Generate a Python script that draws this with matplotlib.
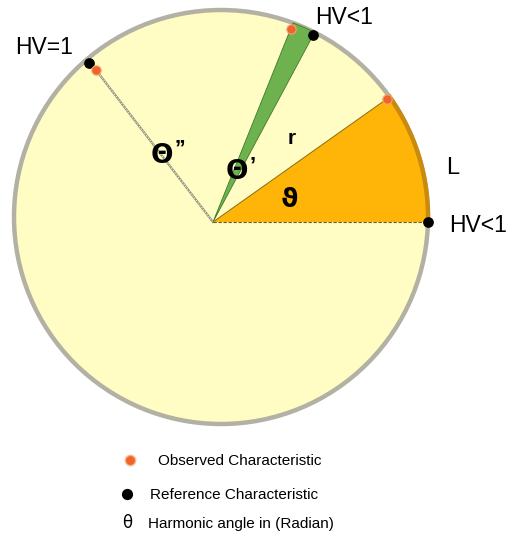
"""Harmonic vector diagram: observed vs reference characteristics on a unit circle."""

import numpy as np
import matplotlib

matplotlib.use("Agg")
import matplotlib.pyplot as plt
from matplotlib.patches import Circle, Polygon

plt.rcParams["font.family"] = ["Liberation Sans", "DejaVu Sans"]

# circle (pixel-like coordinates, y grows downward)
circle_center = (221, 217)
circle_radius = 207
apex = (213, 222)

# ray angles from the apex, degrees (counter-clockwise from +x)
orange_wedge_deg = [0.0, 35.3]
green_wedge_deg = [61.8, 68.1]
hv1_line_deg = 127.6

# marker angles seen from the apex, and how far out along the ray (1 = rim)
observed_deg = [35.3, 68.1, 127.6]
observed_frac = [0.985, 0.97, 0.93]
reference_deg = [0.0, 61.8, 127.8]
reference_frac = [1.0, 0.985, 0.98]

labels = ["HV=1", "HV<1", "HV<1", "L", "r"]
legend_labels = ["Observed Characteristic", "Reference Characteristic",
                 "Harmonic angle in (Radian)"]


def rim_point(angle_deg, frac=1.0):
    """Point on a ray from the apex, frac of the way to the circle."""
    a = np.radians(angle_deg)
    d = np.array([np.cos(a), -np.sin(a)])
    p = np.array(apex) - np.array(circle_center)
    b = p @ d
    c = p @ p - circle_radius ** 2
    t = -b + np.sqrt(b * b - c)
    return np.array(apex) + frac * t * d


def rim_angle(point):
    return np.arctan2(-(point[1] - circle_center[1]), point[0] - circle_center[0])


def wedge_points(a0, a1, n=60):
    p0, p1 = rim_point(a0), rim_point(a1)
    angles = np.linspace(rim_angle(p0), rim_angle(p1), n)
    arc = np.column_stack([circle_center[0] + circle_radius * np.cos(angles),
                           circle_center[1] - circle_radius * np.sin(angles)])
    return np.vstack([apex, arc]), arc


fig = plt.figure(figsize=(5.15, 5.4), dpi=100)
ax = fig.add_axes([0, 0, 1, 1])
ax.set_xlim(0, 515)
ax.set_ylim(540, 0)
ax.axis("off")

ax.add_patch(Circle(circle_center, circle_radius, facecolor="#FFFDC4",
                    edgecolor="#B3B1A3", linewidth=3.2, zorder=1))

# orange wedge
pts, arc = wedge_points(*orange_wedge_deg)
ax.add_patch(Polygon(pts, closed=True, facecolor="#FFB508", edgecolor="none", zorder=2))
ax.plot(arc[:, 0], arc[:, 1], color="#C98A0E", linewidth=3.2, zorder=3)
p_low, p_high = rim_point(orange_wedge_deg[0]), rim_point(orange_wedge_deg[1])
ax.plot([apex[0], p_low[0]], [apex[1], p_low[1]], color="#6E5A20",
        linewidth=0.8, linestyle=(0, (3, 1.5)), zorder=3)
ax.plot([apex[0], p_high[0]], [apex[1], p_high[1]], color="#8A6A10",
        linewidth=0.7, zorder=3)

# green wedge
pts, _ = wedge_points(*green_wedge_deg)
ax.add_patch(Polygon(pts, closed=True, facecolor="#6DB24E", edgecolor="#3E7A2A",
                     linewidth=0.6, zorder=2))

# HV=1 line, up to the observed point
p_hv = rim_point(hv1_line_deg, observed_frac[2])
ax.plot([apex[0], p_hv[0]], [apex[1], p_hv[1]], color="#8F8F80",
        linewidth=1.6, zorder=2)
ax.plot([apex[0], p_hv[0]], [apex[1], p_hv[1]], color="#FFFDC4",
        linewidth=0.6, linestyle=(0, (2, 1.5)), zorder=2)

# markers
ref_pts = np.array([rim_point(a, f) for a, f in zip(reference_deg, reference_frac)])
obs_pts = np.array([rim_point(a, f) for a, f in zip(observed_deg, observed_frac)])
ax.scatter(ref_pts[:, 0], ref_pts[:, 1], s=45, color="black", zorder=5)
ax.scatter(obs_pts[:, 0], obs_pts[:, 1], s=45, color="#F0642A",
           edgecolors="#F7A270", linewidths=0.8, zorder=6)

# labels
ax.text(15, 48, labels[0], fontsize=16.5, va="center", ha="left")
ax.text(315, 18, labels[1], fontsize=16.5, va="center", ha="left")
ax.text(449, 226, labels[2], fontsize=16.5, va="center", ha="left")
ax.text(446, 168, labels[3], fontsize=17, va="center", ha="left")
ax.text(288, 138, labels[4], fontsize=15, va="center", ha="left", fontweight="bold")

ax.text(151, 156, "Θ", fontsize=19, fontweight="bold", va="center", ha="left",
        family="DejaVu Sans", zorder=7)
ax.text(175, 149, "’’", fontsize=16, fontweight="bold", va="center", ha="left", zorder=7)
ax.text(226, 172, "Θ", fontsize=19, fontweight="bold", va="center", ha="left",
        family="DejaVu Sans", zorder=7)
ax.text(250, 166, "’", fontsize=16, fontweight="bold", va="center", ha="left", zorder=7)
ax.text(289, 200, "ϑ", fontsize=19, fontweight="bold", va="center", ha="center",
        family="DejaVu Sans", zorder=7)

# legend
ax.scatter([130], [460], s=55, color="#F0642A", edgecolors="#F9B890",
           linewidths=1.0, zorder=5)
ax.text(158, 461, legend_labels[0], fontsize=11, va="center", ha="left")
ax.scatter([127], [494], s=50, color="black", zorder=5)
ax.text(150, 495, legend_labels[1], fontsize=11, va="center", ha="left")
ax.text(122, 523, "θ", fontsize=12, va="center", ha="left", family="DejaVu Sans")
ax.text(148, 524, legend_labels[2], fontsize=11, va="center", ha="left")

fig.savefig("out.png", dpi=100)
